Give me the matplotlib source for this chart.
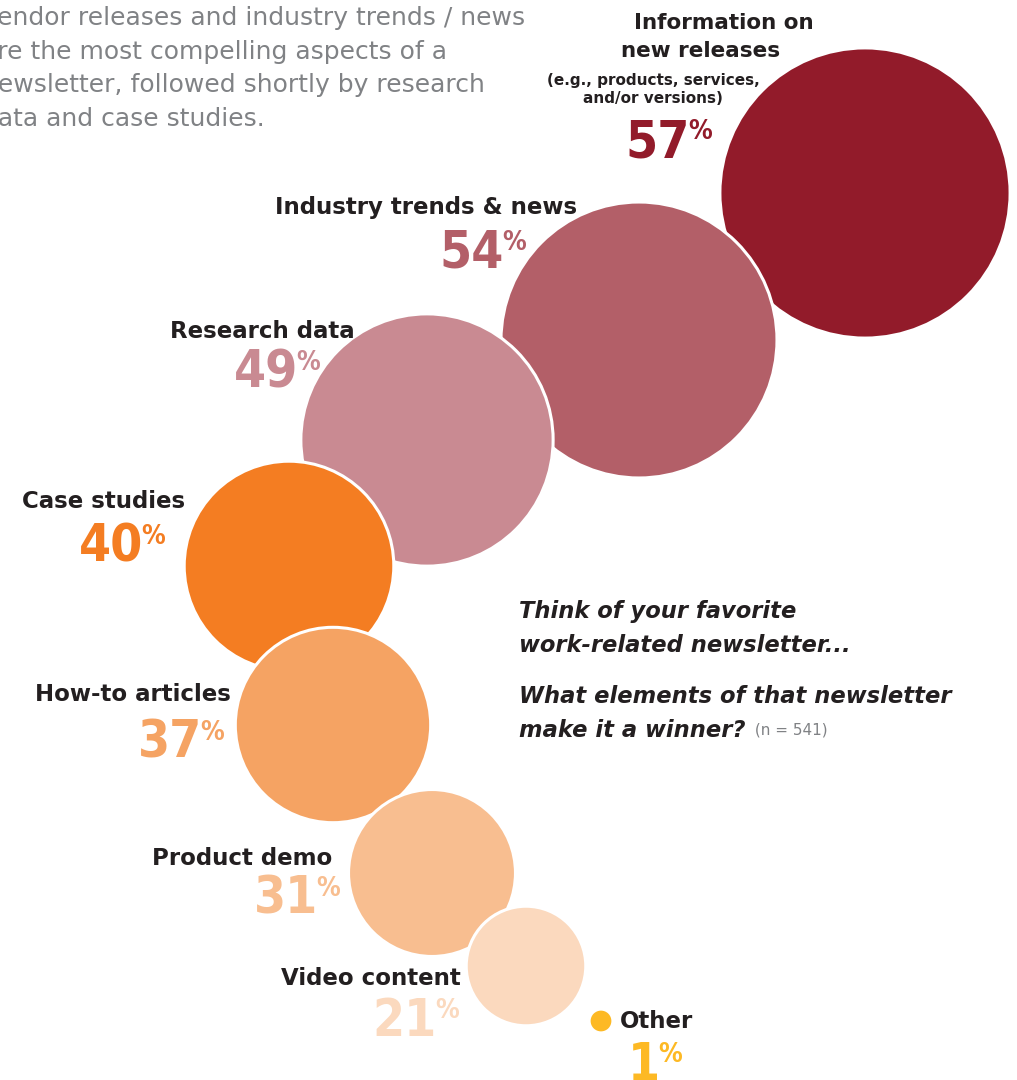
import matplotlib
matplotlib.use("Agg")
import matplotlib.pyplot as plt
from matplotlib.patches import Circle

# survey answers, largest first
labels = ["Information on\nnew releases", "Industry trends & news", "Research data",
          "Case studies", "How-to articles", "Product demo", "Video content"]
values = [57, 54, 49, 40, 37, 31, 21]
colors = ["#921B2A", "#B35F68", "#C98A92", "#F47D22", "#F5A363", "#F8BE90", "#FBD9BE"]
other_label, other_value, other_color = "Other", 1, "#FDB924"

# bubble layout in pixel space (centres only; radii come from the values)
centers = [(865, 193), (639, 340), (427, 440), (289, 566), (333, 725), (432, 873), (526, 966)]
other_center = (601, 1021)
# label baseline (right edge x, y) and where each number ends / baseline
label_pos = [(724, 29), (577, 214), (355, 338), (185, 508), (231, 701), (332, 865), (461, 985)]
num_pos = [(690, 157), (504, 268), (298, 388), (143, 562), (202, 758), (318, 914), (437, 1036)]

DARK = "#231F20"
GREY = "#808285"
FONT = "DejaVu Sans"
NUM = dict(family=FONT, stretch="condensed", weight="bold")


def radius(v):
    return 10 + 2.37 * v


fig = plt.figure(figsize=(10.17, 10.8), dpi=100)
ax = fig.add_axes([0, 0, 1, 1])
ax.set_xlim(0, 1017); ax.set_ylim(1080, 0); ax.set_aspect("equal"); ax.axis("off")

for (cx, cy), v, c in zip(centers, values, colors):
    ax.add_patch(Circle((cx, cy), radius(v), fc=c, ec="white", lw=2.2))
ax.add_patch(Circle(other_center, radius(other_value) - 2, fc=other_color, ec="none"))


def pct(x, y, v, c):
    t = ax.text(x, y, f"{v}", ha="right", va="baseline", color=c, size=37, **NUM)
    ax.annotate("%", xy=(1, 1), xycoords=t, xytext=(-1, -1), textcoords="offset points",
                ha="left", va="top", color=c, size=19, **NUM)


for i, (lab, (lx, ly), (nx, ny), v, c) in enumerate(zip(labels, label_pos, num_pos, values, colors)):
    if i == 0:
        ax.text(lx, ly, "Information on", ha="center", va="baseline", color=DARK,
                family=FONT, weight="bold", size=15.5)
        ax.text(701, ly + 28, "new releases", ha="center", va="baseline", color=DARK,
                family=FONT, weight="bold", size=15.5)
        ax.text(653, 85, "(e.g., products, services,", ha="center", va="baseline",
                color=DARK, family=FONT, weight="bold", size=11)
        ax.text(653, 103, "and/or versions)", ha="center", va="baseline",
                color=DARK, family=FONT, weight="bold", size=11)
    else:
        ax.text(lx, ly, lab, ha="right", va="baseline", color=DARK,
                family=FONT, weight="bold", size=16.5)
    pct(nx, ny, v, c)

ax.text(620, 1028, other_label, ha="left", va="baseline", color=DARK,
        family=FONT, weight="bold", size=16.5)
pct(660, 1080, other_value, other_color)

# intro paragraph, runs off the left edge
intro = ["Vendor releases and industry trends / news",
         "are the most compelling aspects of a",
         "newsletter, followed shortly by research",
         "data and case studies."]
for k, line in enumerate(intro):
    ax.text(-18, 25 + 33.7 * k, line, ha="left", va="baseline", color=GREY,
            family=FONT, size=18, clip_on=False)

question = ["Think of your favorite", "work-related newsletter...", "",
            "What elements of that newsletter", "make it a winner?"]
qy = [618, 652, 0, 703, 737]
for line, y in zip(question, qy):
    if line:
        qt = ax.text(519, y, line, ha="left", va="baseline", color=DARK,
                     family=FONT, weight="bold", style="italic", size=16.3)
ax.annotate(" (n = 541)", xy=(1, 0), xycoords=qt, xytext=(3, 3), textcoords="offset points",
            ha="left", va="bottom", color=GREY, family=FONT, size=11)

fig.savefig("out.png", dpi=100)
